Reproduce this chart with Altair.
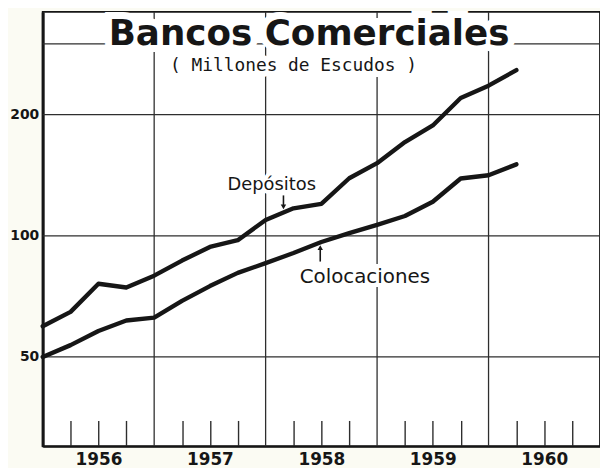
import altair as alt
import pandas as pd

# ---- data (quarterly, millions of escudos, log scale) ----
periods = [1956.0, 1956.25, 1956.5, 1956.75, 1957.0, 1957.25, 1957.5, 1957.75,
           1958.0, 1958.25, 1958.5, 1958.75, 1959.0, 1959.25, 1959.5, 1959.75,
           1960.0, 1960.25]
depositos = [59.6, 64.7, 76.0, 74.4, 79.6, 86.8, 93.8, 97.5,
             109.5, 117.0, 120.0, 139.0, 151.5, 171.0, 188.0, 220.0,
             236.0, 258.0]
colocaciones = [50.0, 53.5, 58.0, 61.6, 62.6, 68.9, 75.0, 80.9,
                85.5, 90.6, 96.5, 101.5, 106.5, 112.0, 121.5, 138.8,
                141.4, 150.5]

year_labels = ["1956", "1957", "1958", "1959", "1960"]
year_label_pos = [1956.5, 1957.5, 1958.5, 1959.5, 1960.5]
y_tick_values = [50, 100, 200]
h_grid = [50, 100, 200, 300]
v_grid = [1957, 1958, 1959, 1960]
quarter_ticks = [1956.25, 1956.5, 1956.75, 1957.25, 1957.5, 1957.75,
                 1958.25, 1958.5, 1958.75, 1959.25, 1959.5, 1959.75,
                 1960.25, 1960.5, 1960.75]

x_domain = [1956, 1961]
y_domain = [30, 360]

# annotation texts and their anchor points (data coordinates)
series_labels = ["Depósitos", "Colocaciones"]
series_label_t = [1958.055, 1958.89]
series_label_v = [133.6, 79.2]
series_label_size = [18, 20]
arrow_t = [1958.16, 1958.49]
arrow_from_v = [126.0, 86.3]
arrow_to_v = [118.0, 93.5]
arrow_shape = ["triangle-down", "triangle-up"]

title_text = "Bancos Comerciales"
subtitle_text = "( Millones de Escudos )"
title_t, title_v = 1958.39, 298.0
subtitle_t, subtitle_v = 1958.25, 256.0

W, H = 562, 438
INK = "#161616"
GRID = "#2e2e2e"
PAPER = "#ffffff"

xs = alt.Scale(domain=x_domain, nice=False, zero=False)
ys = alt.Scale(type="log", domain=y_domain, nice=False)

lines_df = pd.DataFrame({
    "t": periods + periods,
    "v": depositos + colocaciones,
    "serie": ["Depósitos"] * len(periods) + ["Colocaciones"] * len(periods),
})

hgrid = alt.Chart(pd.DataFrame({"v": h_grid})).mark_rule(
    color=GRID, strokeWidth=1.3
).encode(y=alt.Y("v:Q", scale=ys, axis=None))

vgrid = alt.Chart(pd.DataFrame({"t": v_grid})).mark_rule(
    color=GRID, strokeWidth=1.3
).encode(
    x=alt.X("t:Q", scale=xs, axis=alt.Axis(
        orient="top", offset=-H, values=quarter_ticks, tickSize=26,
        tickColor=GRID, tickWidth=1.4, labels=False, domain=False,
        grid=False, title=None))
)

lines = alt.Chart(lines_df).mark_line(
    color=INK, strokeWidth=4.4, strokeCap="round", strokeJoin="round"
).encode(
    x=alt.X("t:Q", scale=xs, axis=alt.Axis(
        orient="bottom", values=year_label_pos,
        labelExpr="'' + floor(datum.value)", tickSize=0, labelPadding=5,
        labelFont="DejaVu Sans", labelFontWeight="bold", labelFontSize=17,
        labelColor=INK, domain=True, domainColor=INK, domainWidth=2.2,
        grid=False, title=None)),
    y=alt.Y("v:Q", scale=ys, axis=alt.Axis(
        values=y_tick_values, tickSize=0, labelPadding=4,
        labelFont="DejaVu Sans", labelFontWeight="bold", labelFontSize=14,
        labelColor=INK, domain=True, domainColor=INK, domainWidth=3,
        grid=False, title=None)),
    detail="serie:N",
)

lab_df = pd.DataFrame({"t": series_label_t, "v": series_label_v,
                       "txt": series_labels, "size": series_label_size})
lab_halo = alt.Chart(lab_df).mark_text(
    font="DejaVu Sans", color=PAPER, stroke=PAPER, strokeWidth=8,
    baseline="middle", align="center"
).encode(x=alt.X("t:Q", scale=xs, axis=None), y=alt.Y("v:Q", scale=ys, axis=None),
         text="txt:N", size=alt.Size("size:Q", scale=None))
lab_text = alt.Chart(lab_df).mark_text(
    font="DejaVu Sans", color=INK, baseline="middle", align="center"
).encode(x=alt.X("t:Q", scale=xs, axis=None), y=alt.Y("v:Q", scale=ys, axis=None),
         text="txt:N", size=alt.Size("size:Q", scale=None))

arr_df = pd.DataFrame({"t": arrow_t, "v1": arrow_from_v, "v2": arrow_to_v, "shape": arrow_shape})
arr_stem = alt.Chart(arr_df).mark_rule(color=INK, strokeWidth=1.6).encode(
    x=alt.X("t:Q", scale=xs, axis=None),
    y=alt.Y("v1:Q", scale=ys, axis=None), y2="v2:Q")
arr_head = alt.Chart(arr_df).mark_point(filled=True, color=INK, size=30, opacity=1).encode(
    x=alt.X("t:Q", scale=xs, axis=None),
    y=alt.Y("v2:Q", scale=ys, axis=None),
    shape=alt.Shape("shape:N", scale=None))

ttl_df = pd.DataFrame({"t": [title_t], "v": [title_v], "txt": [title_text]})
sub_df = pd.DataFrame({"t": [subtitle_t], "v": [subtitle_v], "txt": [subtitle_text]})

def text_layer(df, fill, size, weight, font, halo=0):
    kw = dict(font=font, fontSize=size, fontWeight=weight, color=fill,
              baseline="alphabetic", align="center")
    if halo:
        kw.update(stroke=fill, strokeWidth=halo)
    return alt.Chart(df).mark_text(**kw).encode(
        x=alt.X("t:Q", scale=xs, axis=None), y=alt.Y("v:Q", scale=ys, axis=None), text="txt:N")

ttl_halo = text_layer(ttl_df, PAPER, 36, "bold", "DejaVu Sans", halo=14)
sub_halo = text_layer(sub_df, PAPER, 18, "normal", "DejaVu Sans Mono", halo=12)
ttl = text_layer(ttl_df, INK, 36, "bold", "DejaVu Sans")
sub = text_layer(sub_df, INK, 18, "normal", "DejaVu Sans Mono")

chart = alt.layer(
    hgrid, vgrid, lines, lab_halo, lab_text, arr_stem, arr_head,
    ttl_halo, sub_halo, ttl, sub
).resolve_axis(x="independent", y="independent").properties(
    width=W, height=H,
    autosize=alt.AutoSizeParams(type="none"),
    padding={"left": 35, "top": 2, "right": 0, "bottom": 20},
    background="#fbfbf3",
).configure_view(stroke=INK, strokeWidth=1.8, fill=PAPER)

chart.save("out.html", embed_options={"renderer": "svg", "actions": False})
